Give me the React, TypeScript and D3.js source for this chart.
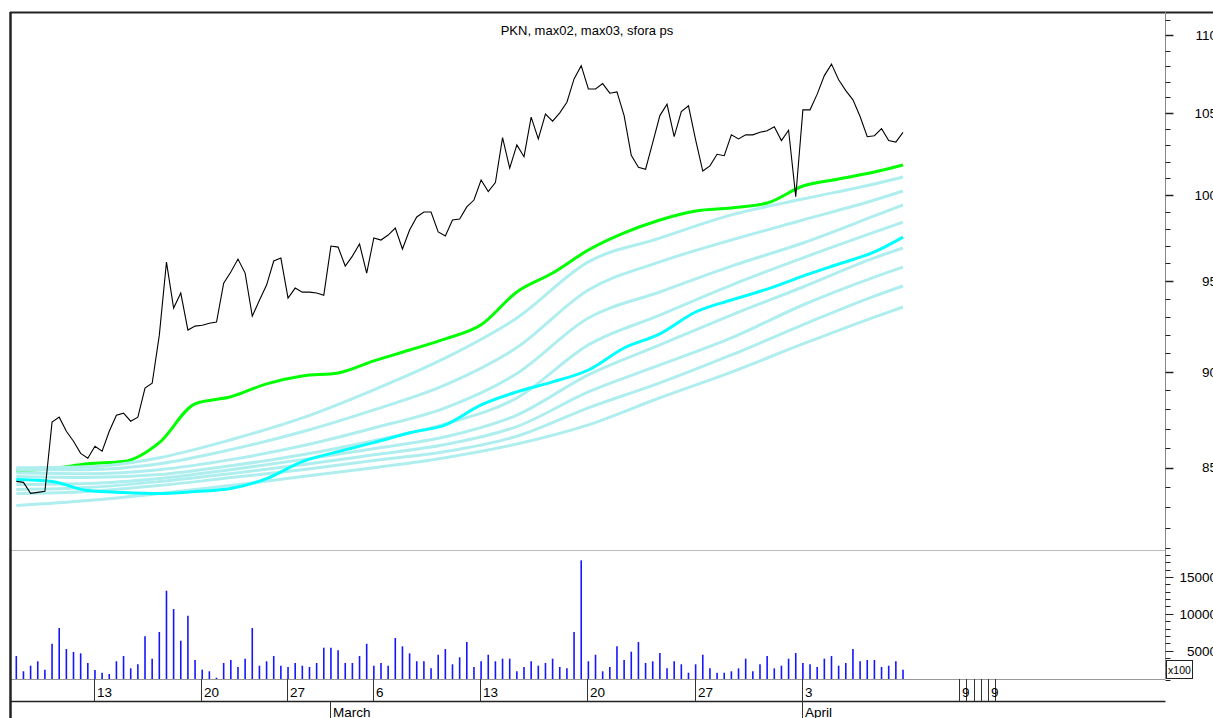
import * as d3 from 'd3';
import { useEffect, useRef } from 'react';

const W = 1213;
const H = 718;

// closing prices, 3 bars per session
const price = [
  84.3, 84.25, 83.7, 83.75, 83.8, 87.33, 87.59, 86.86, 86.34, 85.72,
  85.47, 86.08, 85.83, 86.86, 87.69, 87.8, 87.38, 87.59, 89.12, 89.38,
  91.98, 96.08, 93.48, 94.32, 92.26, 92.48, 92.53, 92.64, 92.7, 94.88,
  95.51, 96.25, 95.45, 93.03, 93.92, 94.77, 96.14, 96.31, 94.04, 94.6,
  94.37, 94.37, 94.32, 94.2, 97.0, 96.94, 95.85, 96.42, 97.12, 95.45,
  97.47, 97.35, 97.64, 98.05, 96.83, 97.93, 98.7, 98.99, 98.99, 97.82,
  97.58, 98.52, 98.58, 99.29, 99.7, 100.9, 100.2, 100.74, 103.48, 101.61,
  103.03, 102.31, 104.75, 103.4, 104.94, 104.5, 105.02, 105.69, 107.17, 108.02,
  106.53, 106.53, 106.87, 106.26, 106.34, 104.85, 102.4, 101.67, 101.55, 103.17,
  104.85, 105.56, 103.54, 105.1, 105.46, 103.34, 101.44, 101.75, 102.46, 102.37,
  103.65, 103.4, 103.65, 103.65, 103.81, 103.91, 104.16, 103.3, 103.94, 99.9,
  105.21, 105.21, 106.2, 107.38, 108.12, 107.11, 106.42, 105.84, 104.79, 103.54,
  103.6, 104.04, 103.3, 103.21, 103.81,
];

// volume, x100
const volume = [
  4270, 2200, 2960, 3560, 2420, 5940, 8070, 5220, 4820, 4640,
  3330, 2380, 2010, 1830, 3560, 4270, 2600, 3150, 6950, 3910,
  7530, 13140, 10650, 6350, 9740, 3730, 2420, 2200, 1330, 3330,
  3730, 2780, 3910, 8070, 2960, 3560, 4270, 2960, 2780, 3330,
  2960, 2780, 3330, 5400, 5400, 5050, 3330, 3330, 4270, 5940,
  2960, 3330, 2960, 6720, 5590, 4640, 3560, 3560, 2600, 4450,
  5220, 3150, 4100, 6170, 2780, 3560, 4450, 3560, 3910, 3910,
  2200, 2780, 3560, 2960, 3330, 3910, 2780, 2600, 7530, 17260,
  3560, 4450, 2200, 2780, 5590, 3730, 4860, 6170, 3330, 3560,
  4680, 2600, 3560, 3150, 2010, 3150, 4450, 2600, 2010, 2010,
  2200, 2600, 3910, 2200, 3150, 4270, 2600, 2960, 3910, 4680,
  3330, 3150, 2780, 3910, 4270, 2960, 3330, 5220, 3560, 3730,
  3730, 2780, 2960, 3560, 2420,
];

// averages sampled every 5 bars
const fastIdx = [0, 5, 10, 15, 20, 25, 30, 35, 40, 45, 50, 55, 60, 65, 70, 75, 80, 85, 90, 95, 100, 105, 110, 115, 120, 124];
const max02 = [
  84.84, 84.94, 85.19, 85.3, 86.27, 88.29, 88.66, 89.35, 89.77, 89.93,
  90.58, 91.17, 91.78, 92.55, 94.38, 95.45, 96.77, 97.76, 98.52, 99.05,
  99.23, 99.52, 100.54, 100.96, 101.38, 101.81,
];
const max03 = [
  84.39, 84.29, 83.84, 83.74, 83.69, 83.79, 83.94, 84.44, 85.3, 85.81,
  86.27, 86.78, 87.19, 88.23, 88.92, 89.45, 90.09, 91.28, 92.05, 93.26,
  93.93, 94.54, 95.28, 95.97, 96.66, 97.52,
];

// sfora, sampled every 10 bars
const sforaIdx = [0, 10, 20, 30, 40, 50, 60, 70, 80, 90, 100, 110, 120, 124];
const sfora1 = [84.99, 85.04, 85.5, 86.42, 87.55, 89.03, 90.74, 92.93, 96.09, 97.46, 98.82, 99.76, 100.66, 101.08];
const sfora2 = [84.89, 84.89, 85.19, 85.91, 86.83, 87.97, 89.29, 91.3, 94.49, 96.09, 97.35, 98.52, 99.7, 100.24];
const sfora3 = [84.74, 84.69, 84.89, 85.4, 86.11, 87.03, 88.08, 89.9, 92.93, 94.38, 95.85, 97.18, 98.76, 99.41];
const sfora4 = [84.54, 84.49, 84.64, 85.09, 85.65, 86.37, 87.24, 88.6, 91.45, 93.09, 94.77, 96.32, 97.81, 98.4];
const sfora5 = [84.14, 84.19, 84.44, 84.89, 85.4, 85.96, 86.57, 87.7, 89.83, 91.45, 93.09, 94.66, 96.32, 96.89];
const sfora6 = [83.89, 83.99, 84.29, 84.69, 85.14, 85.65, 86.17, 87.1, 88.92, 90.36, 91.83, 93.65, 95.22, 95.79];
const sfora7 = [83.69, 83.79, 84.09, 84.49, 84.89, 85.35, 85.81, 86.6, 88.08, 89.4, 90.9, 92.55, 94.15, 94.72];
const sfora8 = [83.09, 83.34, 83.69, 84.09, 84.54, 84.99, 85.5, 86.2, 87.19, 88.61, 89.98, 91.5, 92.98, 93.54];
const sforaLines = [sfora1, sfora2, sfora3, sfora4, sfora5, sfora6, sfora7, sfora8];

// date axis
const weekIdx = [11, 26, 38, 50, 65, 80, 95, 110];
const weekLabels = ['13', '20', '27', '6', '13', '20', '27', '3'];
const monthIdx = [44, 110];
const monthLabels = ['March', 'April'];
const tailIdx = [132, 133, 134, 135, 136, 137];
const tailLabels = ['9', '', '', '', '9', ''];

const priceLabels = [85, 90, 95, 100, 105, 110];
const volumeLabels = [5000, 10000, 15000];

const FONT = '"Liberation Sans", Arial, sans-serif';

export default function App() {
  const ref = useRef(null);

  useEffect(() => {
    const svg = d3.select(ref.current);
    svg.selectAll('*').remove();

    const left = 11;
    const axisX = 1165.5;
    const priceTop = 12;
    const priceBottom = 550;
    const volBottom = 679;
    const dateBottom = 701;

    const x = d3.scaleLinear().domain([0, 124]).range([16.3, 903]);
    const yP = d3.scaleLog().domain([85, 100]).range([467.5, 195]);
    const yV = d3.scaleLinear().domain([0, 15000]).range([687.5, 577]);

    svg.append('rect').attr('width', W).attr('height', H).attr('fill', '#fff');

    // title
    svg.append('text')
      .attr('x', 587)
      .attr('y', 35)
      .attr('text-anchor', 'middle')
      .style('font-family', FONT)
      .style('font-size', '13px')
      .text('PKN, max02, max03, sfora ps');

    const plot = svg.append('g');
    const clipId = 'price-clip';
    svg.append('defs').append('clipPath').attr('id', clipId)
      .append('rect').attr('x', left).attr('y', priceTop).attr('width', axisX - left).attr('height', priceBottom - priceTop);
    plot.attr('clip-path', `url(#${clipId})`);

    const maLine = (idx) => d3.line()
      .x((_, k) => x(idx[k]))
      .y((v) => yP(v))
      .curve(d3.curveMonotoneX);

    plot.append('path')
      .datum(max02)
      .attr('d', maLine(fastIdx))
      .attr('fill', 'none')
      .attr('stroke', '#00ff00')
      .attr('stroke-width', 3);

    plot.selectAll('path.sfora')
      .data(sforaLines)
      .enter()
      .append('path')
      .attr('class', 'sfora')
      .attr('d', (d) => maLine(sforaIdx)(d))
      .attr('fill', 'none')
      .attr('stroke', '#afeeee')
      .attr('stroke-width', 3);

    plot.append('path')
      .datum(max03)
      .attr('d', maLine(fastIdx))
      .attr('fill', 'none')
      .attr('stroke', '#00ffff')
      .attr('stroke-width', 3);

    plot.append('path')
      .datum(price)
      .attr('d', d3.line().x((_, i) => x(i)).y((v) => yP(v)))
      .attr('fill', 'none')
      .attr('stroke', '#000')
      .attr('stroke-width', 1.1);

    // volume
    svg.append('g')
      .selectAll('line')
      .data(volume)
      .enter()
      .append('line')
      .attr('x1', (_, i) => x(i))
      .attr('x2', (_, i) => x(i))
      .attr('y1', volBottom)
      .attr('y2', (v) => yV(v))
      .attr('stroke', '#1515ff')
      .attr('stroke-width', 1.6);

    // frame lines
    svg.append('line').attr('x1', left).attr('x2', axisX).attr('y1', priceBottom + 0.5).attr('y2', priceBottom + 0.5)
      .attr('stroke', '#bbb');
    svg.append('line').attr('x1', left).attr('x2', axisX).attr('y1', volBottom + 0.5).attr('y2', volBottom + 0.5)
      .attr('stroke', '#999');
    svg.append('line').attr('x1', left).attr('x2', axisX).attr('y1', dateBottom + 0.5).attr('y2', dateBottom + 0.5)
      .attr('stroke', '#222').attr('stroke-width', 1.5);
    svg.append('line').attr('x1', 10).attr('x2', W).attr('y1', 12.5).attr('y2', 12.5)
      .attr('stroke', '#222').attr('stroke-width', 2);
    svg.append('line').attr('x1', 10.5).attr('x2', 10.5).attr('y1', 12).attr('y2', H)
      .attr('stroke', '#222').attr('stroke-width', 2.5);
    svg.append('line').attr('x1', axisX).attr('x2', axisX).attr('y1', 12).attr('y2', volBottom)
      .attr('stroke', '#888');

    // price axis
    const pAxis = svg.append('g');
    pAxis.selectAll('line')
      .data(d3.range(81, 112))
      .enter()
      .append('line')
      .attr('x1', axisX)
      .attr('x2', (v) => axisX + (v % 5 === 0 ? 8 : 5))
      .attr('y1', (v) => Math.round(yP(v)) + 0.5)
      .attr('y2', (v) => Math.round(yP(v)) + 0.5)
      .attr('stroke', '#222')
      .attr('stroke-width', (v) => (v % 5 === 0 ? 1.5 : 1));
    pAxis.selectAll('text')
      .data(priceLabels)
      .enter()
      .append('text')
      .attr('x', 1217)
      .attr('y', (v) => yP(v))
      .attr('dy', '0.36em')
      .attr('text-anchor', 'end')
      .style('font-family', FONT)
      .style('font-size', '13.5px')
      .text((v) => v);

    // volume axis
    const vAxis = svg.append('g');
    vAxis.selectAll('line')
      .data(d3.range(1000, 19000, 1000).filter((v) => yV(v) > priceBottom - 2))
      .enter()
      .append('line')
      .attr('x1', axisX)
      .attr('x2', (v) => axisX + (v % 5000 === 0 ? 8 : 5))
      .attr('y1', (v) => Math.round(yV(v)) + 0.5)
      .attr('y2', (v) => Math.round(yV(v)) + 0.5)
      .attr('stroke', '#222');
    vAxis.selectAll('text')
      .data(volumeLabels)
      .enter()
      .append('text')
      .attr('x', 1217)
      .attr('y', (v) => yV(v))
      .attr('dy', '0.36em')
      .attr('text-anchor', 'end')
      .style('font-family', FONT)
      .style('font-size', '13.5px')
      .text((v) => v);
    svg.append('rect').attr('x', 1166.5).attr('y', 660.5).attr('width', 26).attr('height', 18)
      .attr('fill', '#fff').attr('stroke', '#222');
    svg.append('text').attr('x', 1179.5).attr('y', 673.5).attr('text-anchor', 'middle')
      .style('font-family', FONT).style('font-size', '10.5px').text('x100');

    // date axis
    const dAxis = svg.append('g');
    const allTicks = weekIdx.map((i, k) => ({ i, label: weekLabels[k] }))
      .concat(tailIdx.map((i, k) => ({ i, label: tailLabels[k] })));
    dAxis.selectAll('line.week')
      .data(allTicks)
      .enter()
      .append('line')
      .attr('class', 'week')
      .attr('x1', (d) => Math.round(x(d.i)) - 0.5)
      .attr('x2', (d) => Math.round(x(d.i)) - 0.5)
      .attr('y1', volBottom)
      .attr('y2', dateBottom)
      .attr('stroke', '#333');
    dAxis.selectAll('text.week')
      .data(allTicks)
      .enter()
      .append('text')
      .attr('class', 'week')
      .attr('x', (d) => Math.round(x(d.i)) + 2)
      .attr('y', 697)
      .style('font-family', FONT)
      .style('font-size', '13.5px')
      .text((d) => d.label);
    dAxis.selectAll('line.month')
      .data(monthIdx)
      .enter()
      .append('line')
      .attr('class', 'month')
      .attr('x1', (i) => Math.round(x(i)) - 0.5)
      .attr('x2', (i) => Math.round(x(i)) - 0.5)
      .attr('y1', dateBottom)
      .attr('y2', H)
      .attr('stroke', '#333');
    dAxis.selectAll('text.month')
      .data(monthIdx)
      .enter()
      .append('text')
      .attr('class', 'month')
      .attr('x', (i) => Math.round(x(i)) + 2)
      .attr('y', 717)
      .style('font-family', FONT)
      .style('font-size', '13.5px')
      .text((_, k) => monthLabels[k]);
  }, []);

  return (
    <svg
      ref={ref}
      width={W}
      height={H}
      style={{ position: 'absolute', left: 0, top: 0 }}
    />
  );
}
